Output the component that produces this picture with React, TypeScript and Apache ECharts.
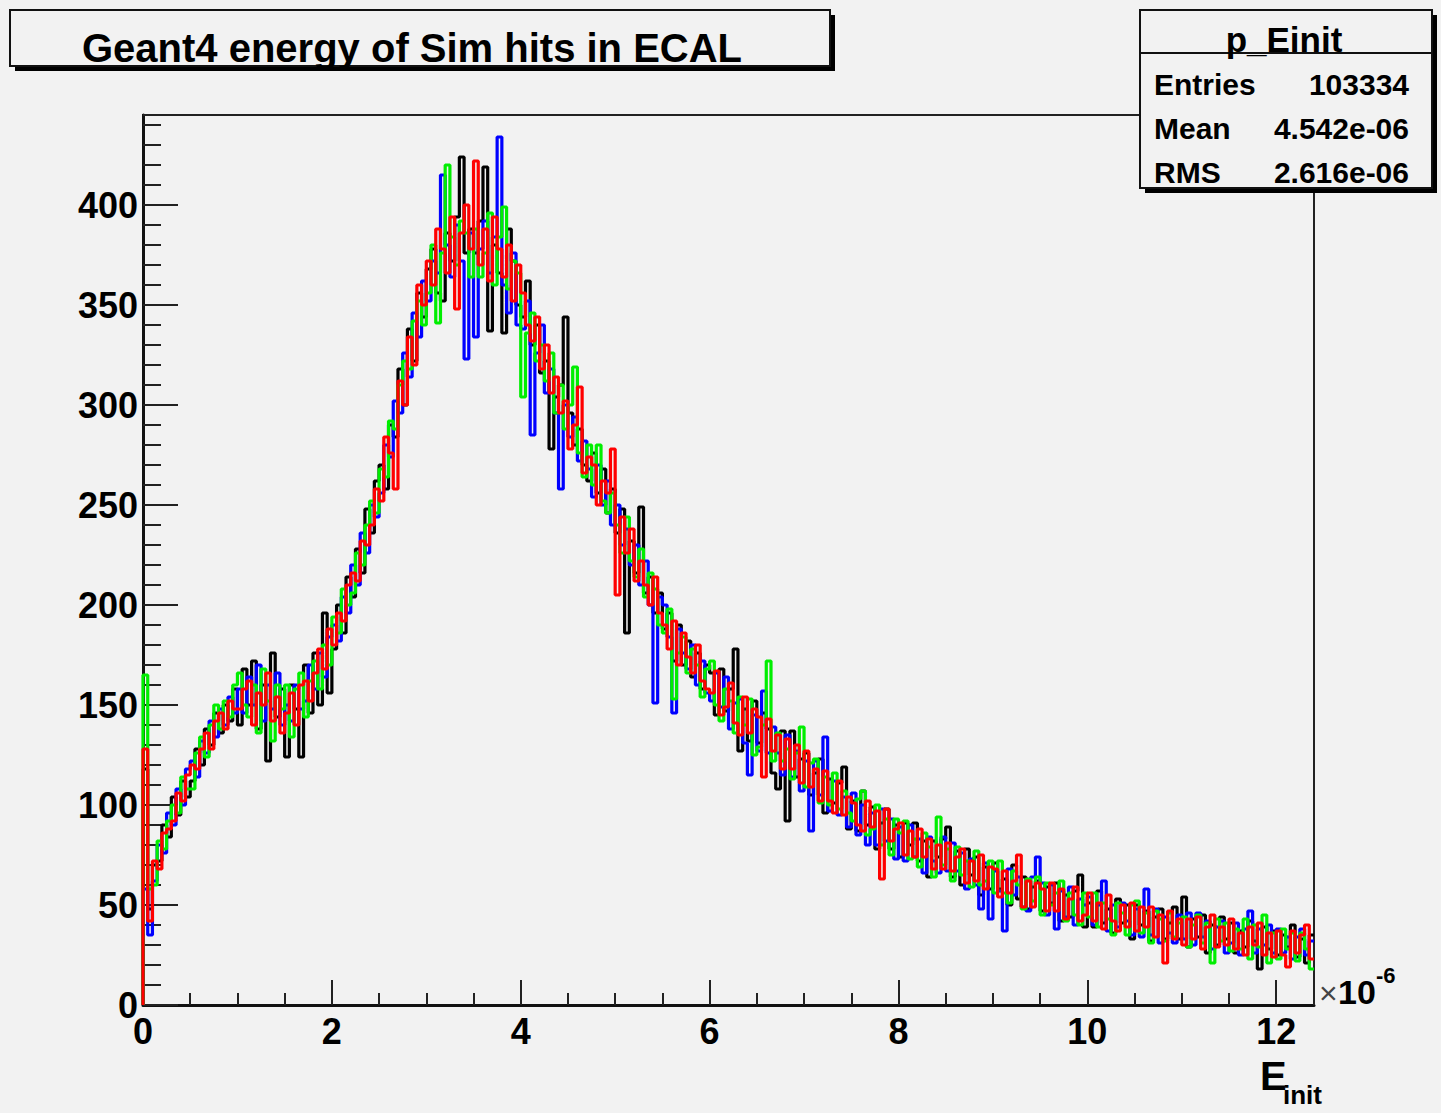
import React, { useEffect, useRef } from "react";
import * as echarts from "echarts";

// Histogram binning (x in units of 1e-6)
const BIN_WIDTH = 0.05;
const X_MIN = 0;
const X_MAX = 12.4;
const Y_MIN = 0;
const Y_MAX = 445;

const xTickValues = [0, 2, 4, 6, 8, 10, 12];
const yTickValues = [0, 50, 100, 150, 200, 250, 300, 350, 400];

const blackCounts = [
  118, 48, 70, 72, 90, 84, 104, 95, 112, 104,
  112, 128, 120, 138, 130, 146, 136, 150, 142, 158,
  140, 168, 150, 172, 138, 160, 122, 176, 144, 158,
  124, 160, 148, 124, 170, 146, 176, 150, 196, 156,
  178, 200, 186, 214, 204, 228, 216, 248, 236, 262,
  270, 258, 290, 284, 318, 300, 338, 322, 356, 344,
  368, 378, 356, 352, 386, 372, 394, 424, 376, 388,
  376, 392, 419, 337, 380, 366, 336, 388, 372, 350,
  344, 362, 330, 340, 316, 322, 278, 304, 310, 344,
  296, 280, 288, 270, 262, 276, 256, 268, 246, 258,
  236, 248, 186, 232, 216, 249, 206, 214, 196, 206,
  188, 196, 172, 190, 170, 182, 164, 176, 158, 170,
  166, 145, 168, 147, 158, 178, 127, 148, 132, 152,
  131, 146, 138, 116, 108, 137, 92, 137, 114, 123,
  126, 105, 116, 123, 96, 113, 101, 111, 119, 88,
  102, 87, 107, 90, 99, 78, 91, 98, 78, 90,
  74, 91, 80, 91, 72, 82, 64, 82, 74, 83,
  89, 64, 77, 60, 78, 65, 74, 55, 69, 58,
  71, 58, 63, 50, 70, 53, 64, 48, 59, 62,
  47, 59, 51, 61, 42, 55, 44, 57, 65, 39,
  51, 39, 57, 41, 48, 36, 53, 41, 50, 33,
  50, 40, 47, 32, 44, 48, 33, 41, 49, 33,
  54, 29, 43, 34, 45, 26, 40, 30, 44, 33,
  41, 26, 37, 29, 42, 32, 18, 39, 28, 37,
  25, 35, 29, 40, 24, 33, 21, 35,
];

const blueCounts = [
  58, 35, 62, 80, 76, 96, 90, 108, 100, 118,
  122, 114, 132, 126, 142, 134, 148, 140, 154, 146,
  158, 146, 164, 150, 170, 142, 160, 148, 166, 140,
  150, 142, 160, 148, 152, 170, 158, 176, 164, 184,
  190, 182, 204, 196, 220, 210, 236, 226, 250, 244,
  256, 280, 274, 302, 296, 326, 314, 346, 334, 362,
  352, 372, 366, 415, 380, 364, 390, 372, 323, 386,
  334, 378, 392, 366, 384, 434, 360, 346, 376, 340,
  338, 352, 285, 326, 340, 306, 318, 296, 258, 300,
  284, 294, 272, 282, 268, 254, 270, 250, 262, 240,
  250, 230, 238, 220, 230, 210, 222, 200, 151, 204,
  200, 184, 146, 188, 176, 168, 180, 160, 172, 156,
  152, 166, 149, 164, 138, 151, 153, 131, 115, 145,
  127, 157, 126, 139, 126, 115, 135, 114, 127, 107,
  122, 87, 122, 105, 134, 97, 112, 95, 104, 89,
  106, 85, 100, 80, 96, 80, 98, 82, 93, 73,
  89, 72, 90, 74, 83, 66, 84, 72, 66, 84,
  67, 81, 67, 76, 58, 73, 60, 48, 71, 43,
  67, 57, 37, 68, 55, 64, 49, 47, 64, 74,
  61, 45, 60, 38, 57, 44, 59, 40, 53, 50,
  54, 40, 50, 62, 37, 50, 39, 51, 42, 35,
  48, 34, 58, 35, 48, 31, 44, 36, 31, 45,
  33, 46, 30, 46, 34, 42, 28, 39, 42, 26,
  31, 41, 25, 38, 47, 26, 38, 30, 40, 26,
  38, 26, 34, 23, 34, 38, 25, 32,
];

const greenCounts = [
  165, 58, 60, 82, 78, 92, 100, 96, 114, 108,
  108, 126, 134, 124, 140, 150, 138, 152, 144, 160,
  166, 150, 144, 160, 136, 168, 152, 132, 160, 148,
  160, 134, 158, 166, 144, 162, 172, 158, 180, 170,
  194, 186, 208, 200, 206, 226, 220, 240, 252, 246,
  268, 264, 292, 288, 310, 322, 318, 342, 352, 340,
  356, 380, 341, 376, 420, 384, 370, 392, 386, 364,
  388, 364, 376, 396, 360, 384, 399, 358, 372, 366,
  304, 336, 346, 322, 330, 312, 326, 296, 310, 288,
  300, 319, 276, 264, 280, 260, 280, 252, 246, 256,
  240, 226, 244, 222, 214, 228, 204, 216, 208, 190,
  186, 198, 153, 176, 184, 166, 178, 170, 154, 168,
  172, 150, 142, 158, 152, 136, 154, 140, 153, 125,
  129, 140, 172, 122, 136, 122, 128, 113, 126, 139,
  109, 121, 123, 101, 114, 100, 116, 98, 107, 96,
  92, 103, 107, 85, 88, 100, 80, 93, 75, 93,
  86, 92, 73, 83, 69, 86, 79, 64, 94, 70,
  78, 62, 79, 65, 72, 59, 77, 60, 62, 72,
  56, 72, 56, 51, 67, 60, 48, 63, 52, 64,
  45, 61, 50, 56, 62, 42, 56, 45, 40, 56,
  44, 56, 39, 51, 43, 35, 51, 46, 35, 50,
  52, 36, 46, 31, 47, 43, 32, 46, 34, 41,
  44, 29, 40, 45, 31, 41, 21, 43, 32, 41,
  27, 38, 28, 43, 23, 40, 29, 45, 21, 36,
  23, 38, 28, 36, 22, 36, 28, 18,
];

const redCounts = [
  128, 42, 72, 68, 86, 88, 92, 106, 102, 115,
  120, 118, 128, 136, 128, 142, 146, 138, 152, 148,
  148, 158, 162, 140, 156, 150, 166, 142, 154, 136,
  146, 156, 140, 160, 162, 152, 166, 178, 168, 188,
  180, 196, 192, 210, 216, 212, 232, 230, 240, 258,
  252, 284, 276, 258, 312, 300, 334, 320, 360, 350,
  372, 360, 388, 378, 366, 394, 348, 386, 400, 378,
  422, 370, 388, 362, 394, 378, 364, 380, 352, 370,
  356, 340, 332, 344, 318, 330, 306, 314, 296, 302,
  278, 290, 309, 266, 274, 270, 250, 262, 256, 278,
  205, 244, 226, 238, 212, 222, 210, 200, 214, 196,
  190, 178, 192, 170, 186, 174, 166, 180, 162, 158,
  156, 167, 145, 149, 161, 141, 135, 154, 136, 148,
  144, 114, 143, 127, 135, 118, 133, 118, 130, 111,
  127, 109, 118, 102, 117, 102, 96, 112, 95, 104,
  101, 90, 87, 102, 89, 97, 63, 98, 82, 88,
  91, 75, 87, 74, 88, 74, 83, 68, 80, 68,
  81, 67, 74, 78, 61, 72, 62, 75, 58, 69,
  68, 54, 67, 56, 62, 75, 49, 62, 49, 61,
  58, 47, 61, 47, 58, 43, 53, 59, 42, 45,
  56, 42, 51, 38, 55, 42, 37, 50, 39, 51,
  37, 49, 39, 49, 34, 45, 21, 47, 33, 43,
  30, 43, 33, 44, 28, 39, 45, 29, 39, 30,
  43, 28, 36, 25, 39, 30, 41, 25, 36, 24,
  37, 25, 19, 37, 26, 35, 40, 23,
];

const seriesNames = ["black", "blue", "green", "red"];
const seriesColors = ["#000000", "#0000ff", "#00ee00", "#ff0000"];
const seriesCounts = [blackCounts, blueCounts, greenCounts, redCounts];

const statsTitle = "p_Einit";
const statsLabels = ["Entries", "Mean", "RMS"];
const statsValues = ["103334", "4.542e-06", "2.616e-06"];
const chartTitle = "Geant4 energy of Sim hits in ECAL";

const FONT = '"Liberation Sans", Arial, Helvetica, sans-serif';

function toSteps(counts: number[]): [number, number][] {
  const pts: [number, number][] = [[X_MIN, 0]];
  counts.forEach((c, i) => pts.push([X_MIN + i * BIN_WIDTH, c]));
  pts.push([X_MIN + counts.length * BIN_WIDTH, counts[counts.length - 1]]);
  return pts;
}

function isTick(list: number[], v: number) {
  return list.some((t) => Math.abs(t - v) < 1e-9);
}

export default function App() {
  const ref = useRef<HTMLDivElement>(null);
  useEffect(() => {
    const chart = echarts.init(ref.current!, null, { renderer: "svg" });
    const tickStyle = { color: "#222", width: 2 };
    const option: any = {
      animation: false,
      backgroundColor: "#f2f2f2",
      grid: {
        left: 143,
        right: 127,
        top: 115,
        bottom: 108,
        show: true,
        borderColor: "#222",
        borderWidth: 2,
        backgroundColor: "transparent",
      },
      xAxis: [
        {
          type: "value",
          min: X_MIN,
          max: X_MAX,
          interval: 2,
          position: "bottom",
          axisLine: { show: true, onZero: false, lineStyle: { color: "#111", width: 3 } },
          axisTick: { show: true, inside: true, length: 25, lineStyle: tickStyle },
          axisLabel: {
            margin: 8,
            fontSize: 36,
            fontWeight: "bold",
            color: "#000",
            fontFamily: FONT,
            formatter: (v: number) => (isTick(xTickValues, v) ? String(v) : ""),
          },
          splitLine: { show: false },
        },
        {
          type: "value",
          min: X_MIN,
          max: X_MAX,
          interval: 0.5,
          position: "bottom",
          axisLine: { show: false },
          axisTick: { show: true, inside: true, length: 12, lineStyle: tickStyle },
          axisLabel: { show: false },
          splitLine: { show: false },
        },
      ],
      yAxis: [
        {
          type: "value",
          min: Y_MIN,
          max: Y_MAX,
          interval: 50,
          position: "left",
          axisLine: { show: true, onZero: false, lineStyle: { color: "#111", width: 3 } },
          axisTick: { show: true, inside: true, length: 35, lineStyle: tickStyle },
          axisLabel: {
            margin: 5,
            fontSize: 36,
            fontWeight: "bold",
            color: "#000",
            fontFamily: FONT,
            padding: [10, 0, 0, 0],
            formatter: (v: number) => (isTick(yTickValues, v) ? String(v) : ""),
          },
          splitLine: { show: false },
        },
        {
          type: "value",
          min: Y_MIN,
          max: Y_MAX,
          interval: 10,
          position: "left",
          axisLine: { show: false },
          axisTick: { show: true, inside: true, length: 18, lineStyle: tickStyle },
          axisLabel: { show: false },
          splitLine: { show: false },
        },
      ],
      series: seriesCounts.map((counts, i) => ({
        name: seriesNames[i],
        type: "line",
        step: "end",
        xAxisIndex: 0,
        yAxisIndex: 0,
        symbol: "none",
        showSymbol: false,
        clip: true,
        lineStyle: { color: seriesColors[i], width: 3.2 },
        data: toSteps(counts),
        z: 2 + i,
      })),
      graphic: [
        // title box
        { type: "rect", z: 100, shape: { x: 15, y: 15, width: 820, height: 56 }, style: { fill: "#000" } },
        { type: "rect", z: 101, shape: { x: 10, y: 10, width: 820, height: 56 }, style: { fill: "#f2f2f2", stroke: "#111", lineWidth: 2 } },
        {
          type: "text", z: 102, x: 412, y: 48,
          style: { text: chartTitle, fill: "#000", font: `bold 40px ${FONT}`, textAlign: "center", textVerticalAlign: "middle" },
        },
        // stats box
        { type: "rect", z: 100, shape: { x: 1145, y: 15, width: 292, height: 178 }, style: { fill: "#000" } },
        { type: "rect", z: 101, shape: { x: 1140, y: 10, width: 292, height: 178 }, style: { fill: "#f2f2f2", stroke: "#111", lineWidth: 2 } },
        { type: "line", z: 102, shape: { x1: 1140, y1: 53, x2: 1432, y2: 53 }, style: { stroke: "#111", lineWidth: 2 } },
        {
          type: "text", z: 103, x: 1284, y: 39,
          style: { text: statsTitle, fill: "#000", font: `bold 35px ${FONT}`, textAlign: "center", textVerticalAlign: "middle" },
        },
        ...statsLabels.map((lab, i) => ({
          type: "text", z: 103, x: 1154, y: 84 + i * 44,
          style: { text: lab, fill: "#000", font: `bold 30px ${FONT}`, textAlign: "left", textVerticalAlign: "middle" },
        })),
        ...statsValues.map((val, i) => ({
          type: "text", z: 103, x: 1409, y: 84 + i * 44,
          style: { text: val, fill: "#000", font: `bold 30px ${FONT}`, textAlign: "right", textVerticalAlign: "middle" },
        })),
        // axis exponent ×10^-6
        {
          type: "text", z: 102, x: 1319, y: 993,
          style: { text: "×", fill: "#444", font: `normal 32px ${FONT}`, textAlign: "left", textVerticalAlign: "middle" },
        },
        {
          type: "text", z: 102, x: 1338, y: 992,
          style: { text: "10", fill: "#000", font: `bold 34px ${FONT}`, textAlign: "left", textVerticalAlign: "middle" },
        },
        {
          type: "text", z: 102, x: 1376, y: 975,
          style: { text: "-6", fill: "#000", font: `bold 22px ${FONT}`, textAlign: "left", textVerticalAlign: "middle" },
        },
        // x-axis title E_init
        {
          type: "text", z: 102, x: 1260, y: 1076,
          style: { text: "E", fill: "#000", font: `bold 40px ${FONT}`, textAlign: "left", textVerticalAlign: "middle" },
        },
        {
          type: "text", z: 102, x: 1283, y: 1095,
          style: { text: "init", fill: "#000", font: `bold 26px ${FONT}`, textAlign: "left", textVerticalAlign: "middle" },
        },
      ],
    };
    chart.setOption(option);
    return () => chart.dispose();
  }, []);
  return (
    <div
      ref={ref}
      style={{ position: "fixed", left: 0, top: 0, width: 1441, height: 1113 }}
    />
  );
}
